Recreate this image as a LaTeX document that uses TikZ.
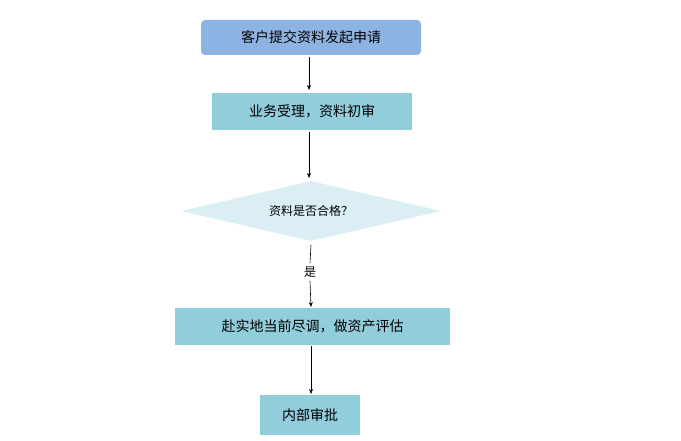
\documentclass[tikz,border=0pt]{standalone}
\usepackage{fontspec}
\newfontfamily\cjk{Noto Sans CJK SC}
\usetikzlibrary{shapes.geometric,arrows.meta}
\definecolor{topc}{HTML}{8DB3E2}
\definecolor{boxc}{HTML}{92CDDC}
\definecolor{diac}{HTML}{DAEEF3}
\begin{document}
\begin{tikzpicture}[x=1pt,y=-1pt,
  box/.style={fill=boxc,draw=none,minimum height=37pt,inner sep=0pt,font=\cjk\fontsize{14}{16}\selectfont},
  arr/.style={-{Stealth[length=5pt,width=4pt]},line width=0.6pt}]
\useasboundingbox (0,0) rectangle (681,441);
\node[box,fill=topc,rounded corners=4pt,minimum width=220pt,minimum height=35pt] (a) at (311,37.5) {客户提交资料发起申请};
\node[box,minimum width=200pt] (b) at (312,111.5) {业务受理，资料初审};
\node[diamond,fill=diac,draw=none,minimum width=260pt,minimum height=60pt,inner sep=0pt,aspect=4.3,font=\cjk\fontsize{12}{14}\selectfont] (c) at (311,211) {资料是否合格？};
\node[box,minimum width=275pt] (d) at (312.5,326.5) {赴实地当前尽调，做资产评估};
\node[box,minimum width=100pt,minimum height=40pt] (e) at (310,415) {内部审批};
\node[font=\cjk\fontsize{12}{14}\selectfont] (l) at (310,272) {是};
\draw[arr] (309,57) -- (309,90);
\draw[arr] (309,132) -- (309,178);
\draw[line width=0.6pt] (311,245) -- (l.north);
\draw[arr] (l.south) -- (311,307);
\draw[arr] (311,346) -- (311,394);
\end{tikzpicture}
\end{document}
